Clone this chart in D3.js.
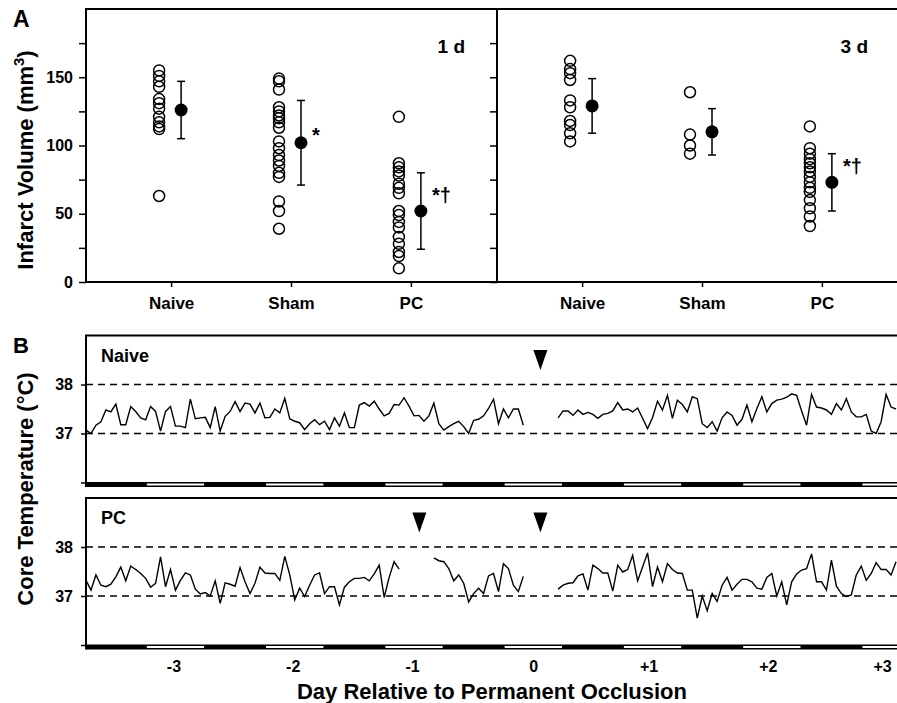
<!DOCTYPE html>
<html>
<head>
<meta charset="utf-8">
<script src="https://cdn.jsdelivr.net/npm/d3@7"></script>
<style>
  body { margin: 0; background: #fff; }
  text { font-family: "Liberation Sans", Arial, sans-serif; font-weight: bold; fill: #000; }
</style>
</head>
<body>
<svg width="897" height="703"></svg>

<script>
// ---------- A: infarct volume (mm3), individual animals + mean ± SD ----------
const groups = ["Naive", "Sham", "PC"];

const naive1d = [155, 151, 147, 143, 134, 131, 127, 121, 117, 114, 112, 63];
const sham1d  = [149, 147, 141, 128, 125, 122, 120, 117, 113, 103, 98, 93, 89, 85, 80, 77, 59, 52, 39];
const pc1d    = [121, 87, 84, 81, 78, 72, 69, 65, 52, 49, 44, 40, 33, 28, 22, 19, 10];
const mean1d  = [126, 102, 52];
const err1d   = [21, 31, 28];
const sig1d   = ["", "*", "*†"];

const naive3d = [162, 156, 153, 148, 133, 128, 118, 115, 109, 103];
const sham3d  = [139, 108, 100, 94];
const pc3d    = [114, 98, 94, 90, 87, 84, 81, 77, 73, 69, 66, 60, 54, 48, 41];
const mean3d  = [129, 110, 73];
const err3d   = [20, 17, 21];
const sig3d   = ["", "", "*†"];

const volTicks = [0, 25, 50, 75, 100, 125, 150, 175];

// ---------- B: core temperature, hourly readings (hours relative to occlusion) ----------
const naiveTempA = [ // hours -90 .. -2
  37.07, 37.0, 37.17, 37.24, 37.48, 37.44, 37.6, 37.18, 37.18, 37.55,
  37.45, 37.32, 37.28, 37.55, 37.45, 37.05, 37.45, 37.55, 37.15, 37.15,
  37.12, 37.7, 37.3, 37.32, 37.33, 37.12, 37.55, 37.05, 37.35, 37.45,
  37.65, 37.45, 37.62, 37.6, 37.42, 37.62, 37.32, 37.33, 37.5, 37.42,
  37.72, 37.3, 37.25, 37.22, 37.08, 37.2, 37.28, 37.18, 37.25, 37.08,
  37.32, 37.15, 37.42, 37.12, 37.12,
  37.58, 37.63, 37.56, 37.66, 37.5, 37.36, 37.41, 37.59, 37.58, 37.73,
  37.56, 37.36, 37.37, 37.25, 37.36, 37.62, 37.2, 37.07, 37.14, 37.2,
  37.25, 37.14, 37.0, 37.27, 37.29, 37.36, 37.51, 37.7, 37.2, 37.5,
  37.32, 37.5, 37.5, 37.17
];
const naiveTempB = [ // hours 5 .. 73
  37.32, 37.46, 37.46, 37.37, 37.48, 37.39, 37.43, 37.39, 37.31, 37.39,
  37.41, 37.46, 37.63, 37.48, 37.5,
  37.44, 37.52, 37.31, 37.1, 37.32, 37.66, 37.48, 37.78, 37.31, 37.68,
  37.59, 37.44, 37.75, 37.71, 37.2, 37.12, 37.24, 37.05, 37.32, 37.44,
  37.37, 37.17, 37.29, 37.58, 37.24, 37.51, 37.75, 37.44, 37.61, 37.68,
  37.7, 37.74, 37.81, 37.78, 37.46, 37.17, 37.8, 37.54, 37.52, 37.48,
  37.39, 37.61, 37.48, 37.71, 37.44, 37.34, 37.34, 37.39, 37.05, 37.0,
  37.24, 37.8, 37.54, 37.5
];
const pcTempA = [ // hours -90 .. -27
  37.32, 37.12, 37.43, 37.22, 37.19, 37.24, 37.39, 37.59, 37.31, 37.61,
  37.54, 37.46, 37.36, 37.18, 37.26, 37.8, 37.19, 37.54, 37.12, 37.32,
  37.47, 37.43, 37.14, 37.04, 37.07, 37.0, 37.31, 36.85, 37.27, 37.24,
  37.2, 37.58, 37.29, 37.05, 37.26, 37.59, 37.47, 37.46, 37.46, 37.32,
  37.81, 37.43, 36.92, 37.16, 36.99, 37.22, 37.43, 37.47, 37.05, 37.19,
  37.19, 36.82, 37.18, 37.29, 37.36,
  37.36, 37.38, 37.31, 37.45, 37.63, 36.97, 37.38, 37.7, 37.55
];
const pcTempB = [ // hours -20 .. -2
  37.78, 37.72, 37.7, 37.56, 37.31, 37.43, 37.26, 36.88, 37.05, 37.16,
  37.05, 37.41, 37.46, 37.09, 37.66, 37.56, 37.22, 37.09, 37.4
];
const pcTempC = [ // hours 5 .. 73
  37.14, 37.22, 37.26, 37.27, 37.41, 37.45, 37.12, 37.63, 37.56, 37.47,
  37.47, 37.1, 37.63, 37.49, 37.54,
  37.83, 37.31, 37.59, 37.88, 37.19, 37.59, 37.29, 37.66, 37.54, 37.47,
  37.46, 37.12, 37.12, 36.55, 37.0, 36.7, 37.05, 36.89, 37.22, 37.38,
  37.12, 37.24, 37.34, 37.34, 37.29, 37.16, 37.14, 37.38, 37.46, 37.0,
  37.29, 36.82, 37.29, 37.45, 37.53, 37.56, 37.86, 37.29, 37.29, 37.12,
  37.73, 37.2, 37.05, 36.99, 37.02, 37.43, 37.61, 37.32, 37.46, 37.68,
  37.54, 37.54, 37.43, 37.7
];

const naiveArrows = [0.06];           // days
const pcArrows = [-0.955, 0.06];
const dayTicks = [-3, -2, -1, 0, 1, 2, 3];
const lightDays = [-3, -2, -1, 0, 1, 2, 3];   // centres of light phase
const tempTicks = [36, 37, 38];

const svg = d3.select("svg");

// ======================= Panel A =======================
const yA = d3.scaleLinear().domain([0, 200]).range([282, 9]);

const panelsA = [
  { x0: 86,  tag: "1 d", tagX: 465, vals: [naive1d, sham1d, pc1d], mean: mean1d, err: err1d, sig: sig1d },
  { x0: 497, tag: "3 d", tagX: 868, vals: [naive3d, sham3d, pc3d], mean: mean3d, err: err3d, sig: sig3d }
];
const sigDy = { Naive: -4, Sham: -1, PC: -9 };

// left axis
svg.append("g").attr("transform", "translate(86,0)")
  .call(d3.axisLeft(yA).tickValues(volTicks).tickSize(7).tickPadding(6)
    .tickFormat(d => d % 50 === 0 ? d : ""))
  .call(a => a.select(".domain").remove())
  .call(a => a.selectAll("text").style("font-size", "16px"))
  .call(a => a.selectAll("line").attr("stroke-width", 1.5));

// inner ticks on the divider
svg.append("g").attr("transform", "translate(497,0)")
  .call(d3.axisLeft(yA).tickValues(volTicks).tickSize(7).tickFormat(""))
  .call(a => a.select(".domain").remove())
  .call(a => a.selectAll("line").attr("stroke-width", 1.5));

panelsA.forEach(p => {
  const x = d3.scalePoint().domain(groups).range([p.x0, p.x0 + 410]).padding(0.71);
  const g = svg.append("g");

  g.append("g").attr("transform", "translate(0,282)")
    .call(d3.axisBottom(x).tickSize(5).tickSizeOuter(0))
    .call(a => a.select(".domain").remove())
    .call(a => a.selectAll("line").attr("stroke-width", 1.5))
    .call(a => a.selectAll("text").attr("y", 27).attr("dy", 0).style("font-size", "17px"));

  groups.forEach((grp, i) => {
    const cx = x(grp);
    g.selectAll(null).data(p.vals[i]).enter().append("circle")
      .attr("cx", cx - 12).attr("cy", d => yA(d)).attr("r", 5.5)
      .attr("fill", "none").attr("stroke", "#000").attr("stroke-width", 1.5);

    const m = p.mean[i], e = p.err[i], mx = cx + 10;
    g.append("line").attr("x1", mx).attr("x2", mx)
      .attr("y1", yA(m - e)).attr("y2", yA(m + e))
      .attr("stroke", "#000").attr("stroke-width", 1.5);
    [m - e, m + e].forEach(v => {
      g.append("line").attr("x1", mx - 4).attr("x2", mx + 4)
        .attr("y1", yA(v)).attr("y2", yA(v))
        .attr("stroke", "#000").attr("stroke-width", 1.5);
    });
    g.append("circle").attr("cx", mx).attr("cy", yA(m)).attr("r", 6.5).attr("fill", "#000");

    if (p.sig[i]) {
      g.append("text").attr("x", mx + 11).attr("y", yA(m) + sigDy[grp])
        .style("font-size", "20px").text(p.sig[i]);
    }
  });

  g.append("text").attr("x", p.tagX).attr("y", 53).attr("text-anchor", "end")
    .style("font-size", "19px").text(p.tag);
});

// frame of panel A
svg.append("path")
  .attr("d", "M86,9H907M86,282H907M86,8V282M497,8V282")
  .attr("fill", "none").attr("stroke", "#000").attr("stroke-width", 2);

svg.append("text").attr("x", 13).attr("y", 27).style("font-size", "23px").text("A");

const yTitleA = svg.append("text")
  .attr("transform", "translate(25,160) rotate(-90)")
  .attr("text-anchor", "middle").attr("dominant-baseline", "central")
  .style("font-size", "22px");
yTitleA.append("tspan").text("Infarct Volume (mm");
yTitleA.append("tspan").attr("dy", -7).style("font-size", "15px").text("3");
yTitleA.append("tspan").attr("dy", 7).text(")");

// ======================= Panel B =======================
const xB = d3.scaleLinear().domain([-3.75, 3.1]).range([86, 903]);

const panelsB = [
  { top: 335.5, name: "Naive", segs: [[naiveTempA, -90], [naiveTempB, 5]], arrows: naiveArrows },
  { top: 498,   name: "PC",    segs: [[pcTempA, -90], [pcTempB, -20], [pcTempC, 5]], arrows: pcArrows }
];

panelsB.forEach((p, pi) => {
  const y = d3.scaleLinear().domain([36, 39]).range([p.top + 147, p.top]);
  const g = svg.append("g");

  // reference lines at 37 and 38
  [37, 38].forEach(v => {
    g.append("line").attr("x1", 86).attr("x2", 903)
      .attr("y1", y(v)).attr("y2", y(v))
      .attr("stroke", "#000").attr("stroke-width", 1.3).attr("stroke-dasharray", "7,5");
  });

  g.append("g").attr("transform", "translate(86,0)")
    .call(d3.axisLeft(y).tickValues(tempTicks).tickSize(5).tickPadding(8)
      .tickFormat(d => d === 36 ? "" : d))
    .call(a => a.select(".domain").remove())
    .call(a => a.selectAll("line").attr("stroke-width", 1.5))
    .call(a => a.selectAll("text").style("font-size", "16px"));

  // temperature trace
  const line = d3.line().x(d => xB(d[0] / 24)).y(d => y(d[1]));
  p.segs.forEach(([vals, start]) => {
    g.append("path")
      .attr("d", line(vals.map((v, i) => [start + i, v])))
      .attr("fill", "none").attr("stroke", "#000").attr("stroke-width", 1.4)
      .attr("stroke-linejoin", "miter");
  });

  // light/dark bar
  g.append("rect").attr("x", 86).attr("width", 903 - 86)
    .attr("y", y(36) - 0.5).attr("height", 5).attr("fill", "#000");
  g.selectAll(null).data(lightDays).enter().append("rect")
    .attr("x", d => xB(d - 0.24)).attr("width", d => xB(d + 0.24) - xB(d - 0.24))
    .attr("y", y(36) + 1).attr("height", 2).attr("fill", "#fff");

  // frame
  g.append("path")
    .attr("d", `M86,${y(39)}H903M86,${y(39) - 1}V${y(36) + 4.5}`)
    .attr("fill", "none").attr("stroke", "#000").attr("stroke-width", 2);

  // arrowheads
  g.selectAll(null).data(p.arrows).enter().append("path")
    .attr("d", d => {
      const ax = xB(d), t = y(39) + 14.5;
      return `M${ax - 7},${t}L${ax + 7},${t}L${ax},${t + 20}Z`;
    })
    .attr("fill", "#000");

  g.append("text").attr("x", 101).attr("y", y(39) + 26)
    .style("font-size", "18px").text(p.name);

  if (pi === panelsB.length - 1) {
    g.append("g").attr("transform", `translate(0,${y(36)})`)
      .call(d3.axisBottom(xB).tickValues(dayTicks).tickSize(0)
        .tickFormat(d => d > 0 ? "+" + d : String(d)))
      .call(a => a.select(".domain").remove())
      .call(a => a.selectAll("text").attr("y", 27).attr("dy", 0)
        .attr("dx", d => d > 0 ? (d === 3 ? -9 : -4) : (d < 0 ? -2 : 0))
        .style("font-size", "16px"));
  }
});

svg.append("text").attr("x", 13).attr("y", 353).style("font-size", "22px").text("B");

svg.append("text")
  .attr("transform", "translate(25,489) rotate(-90)")
  .attr("text-anchor", "middle").attr("dominant-baseline", "central")
  .style("font-size", "22px").text("Core Temperature (°C)");

svg.append("text").attr("x", 492).attr("y", 699).attr("text-anchor", "middle")
  .style("font-size", "22px").text("Day Relative to Permanent Occlusion");
</script>
</body>
</html>
